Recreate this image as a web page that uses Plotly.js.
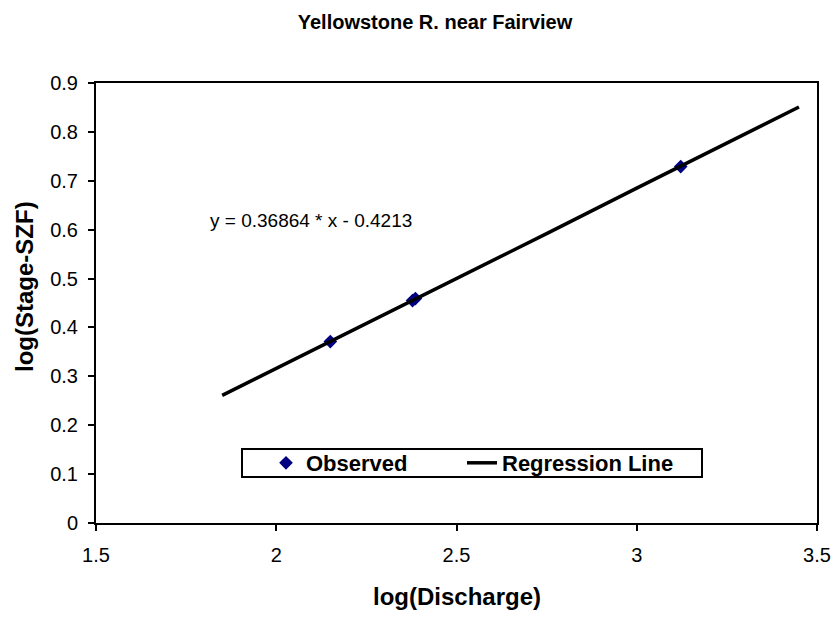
<!DOCTYPE html>
<html>
<head>
<meta charset="utf-8">
<script src="https://cdn.plot.ly/plotly-3.0.1.min.js"></script>
<style>html,body{margin:0;padding:0;background:#fff;}</style>
</head>
<body>
<div id="chart" style="width:835px;height:617px;"></div>
<script>
// Observed points
var obsX = [2.15, 2.378, 2.386, 3.122];
var obsY = [0.371, 0.455, 0.459, 0.729];
// Regression line points
var regX = [1.85, 2.0, 2.25, 2.5, 2.75, 3.0, 3.25, 3.45];
var regY = [0.261, 0.316, 0.408, 0.500, 0.592, 0.685, 0.777, 0.851];
var xTicks = [1.5, 2, 2.5, 3, 3.5];
var yTicks = [0, 0.1, 0.2, 0.3, 0.4, 0.5, 0.6, 0.7, 0.8, 0.9];
var titleText = 'Yellowstone R. near Fairview';
var xTitle = 'log(Discharge)';
var yTitle = 'log(Stage-SZF)';
var eqText = 'y = 0.36864 * x - 0.4213';

var F = 'Arial, "Liberation Sans", sans-serif';
var W = 835, H = 617, L = 96, R = 18, T = 83, B = 94;
var pw = W - L - R, ph = H - T - B;
function px2x(p) { return (p - L) / pw; }
function py2y(p) { return (H - B - p) / ph; }

var traces = [
  {x: obsX, y: obsY, type: 'scatter', mode: 'markers', name: 'Observed', legend: 'legend',
   marker: {symbol: 'diamond', color: '#000080', size: 10.5}},
  {x: regX, y: regY, type: 'scatter', mode: 'lines', name: 'Regression Line', legend: 'legend2',
   line: {color: '#000000', width: 3.5}}
];
var legFont = {size: 22, family: F, weight: 'bold', color: '#000'};
var layout = {
  width: W, height: H,
  paper_bgcolor: '#fff', plot_bgcolor: '#fff',
  margin: {l: L, r: R, t: T, b: B},
  font: {family: F, color: '#000', size: 20},
  title: {text: '<b>' + titleText + '</b>', font: {size: 20, family: F},
          x: 435 / W, xref: 'container', y: 1 - 22 / H, yref: 'container',
          xanchor: 'center', yanchor: 'middle'},
  xaxis: {range: [1.5, 3.5], tickvals: xTicks, ticktext: xTicks.map(String),
          showgrid: false, zeroline: false, showline: true, mirror: true,
          linecolor: '#000', linewidth: 2,
          ticks: 'outside', ticklen: 6, tickwidth: 2, tickcolor: '#000',
          tickfont: {size: 20}, ticklabelstandoff: 7},
  yaxis: {range: [0, 0.9], tickvals: yTicks, ticktext: yTicks.map(String),
          showgrid: false, zeroline: false, showline: true, mirror: true,
          linecolor: '#000', linewidth: 2,
          ticks: 'outside', ticklen: 6, tickwidth: 2, tickcolor: '#000',
          tickfont: {size: 20}, ticklabelstandoff: 6},
  showlegend: true,
  legend: {orientation: 'h', x: px2x(266), xanchor: 'left', y: py2y(463), yanchor: 'middle',
           borderwidth: 0, bgcolor: 'rgba(0,0,0,0)', font: legFont, itemwidth: 30},
  legend2: {orientation: 'h', x: px2x(462), xanchor: 'left', y: py2y(463), yanchor: 'middle',
           borderwidth: 0, bgcolor: 'rgba(0,0,0,0)', font: legFont, itemwidth: 30},
  shapes: [{type: 'rect', xref: 'paper', yref: 'paper', layer: 'below',
            x0: px2x(242), x1: px2x(702), y0: py2y(449), y1: py2y(477),
            line: {color: '#000', width: 2}, fillcolor: '#fff'}],
  annotations: [
    {x: px2x(208), y: py2y(221), xref: 'paper', yref: 'paper', text: eqText,
     showarrow: false, font: {size: 19}, xanchor: 'left', yanchor: 'middle'},
    {x: 0.5, y: py2y(596), xref: 'paper', yref: 'paper', text: '<b>' + xTitle + '</b>',
     showarrow: false, font: {size: 24}, xanchor: 'center', yanchor: 'middle'},
    {x: px2x(24), y: py2y(287), xref: 'paper', yref: 'paper', text: '<b>' + yTitle + '</b>',
     showarrow: false, font: {size: 24}, textangle: -90, xanchor: 'center', yanchor: 'middle'}
  ]
};
Plotly.newPlot('chart', traces, layout, {staticPlot: true});
</script>
</body>
</html>
